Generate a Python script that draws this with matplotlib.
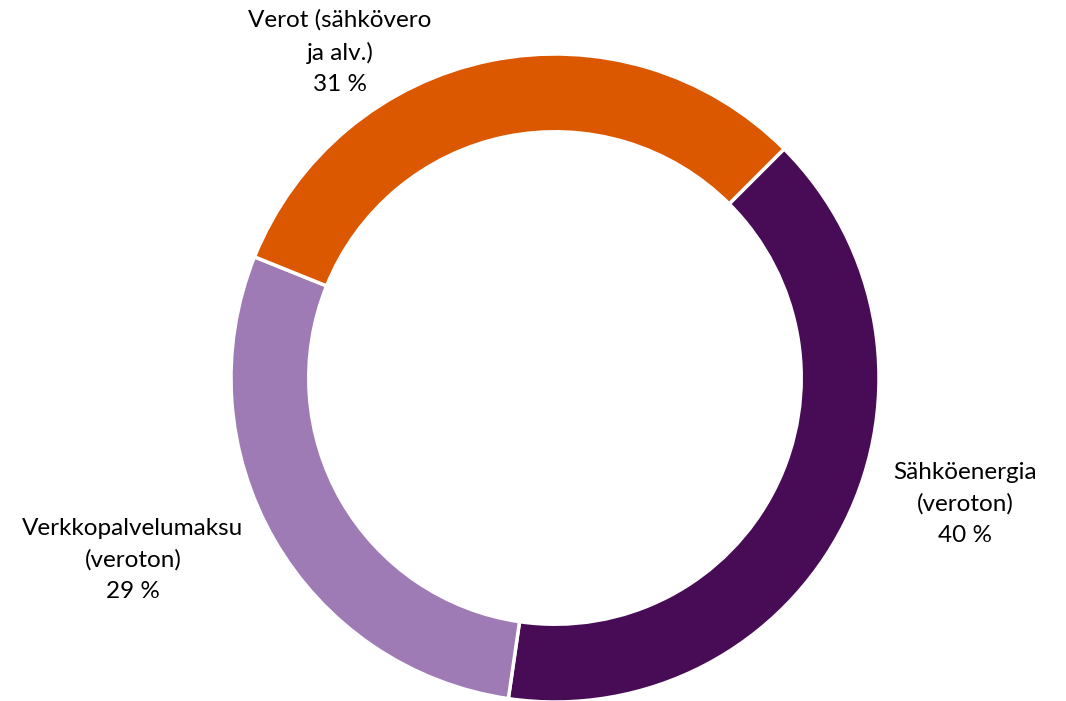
import matplotlib
matplotlib.use("Agg")
import matplotlib.pyplot as plt

categories = ["Sähköenergia\n(veroton)", "Verkkopalvelumaksu\n(veroton)", "Verot (sähkövero\nja alv.)"]
values = [39.8, 28.8, 31.4]
colors = ["#470C55", "#9E7BB5", "#DB5700"]

plt.rcParams['font.family'] = ['Lato', 'DejaVu Sans']

fig = plt.figure(figsize=(10.66, 7.01), dpi=100)
ax = fig.add_axes([0, 0, 1, 1])

cx, cy, R = 555, 701 - 378, 324
wedges, _ = ax.pie(values, colors=colors, startangle=45, counterclock=False,
                   center=(cx, cy), radius=R, frame=True,
                   wedgeprops=dict(width=R * 0.24, edgecolor='white', linewidth=2.5))
ax.set_xlim(0, 1066)
ax.set_ylim(0, 701)
ax.set_aspect('equal')
ax.axis('off')

label_pos = [(965, 701 - 504), (133, 701 - 560), (340, 701 - 52)]
for cat, v, (x, y) in zip(categories, values, label_pos):
    ax.text(x, y, f"{cat}\n{round(v):d} %", ha='center', va='center', fontsize=17.5,
            linespacing=1.6, color='#000000')

fig.savefig("out.png", dpi=100)
